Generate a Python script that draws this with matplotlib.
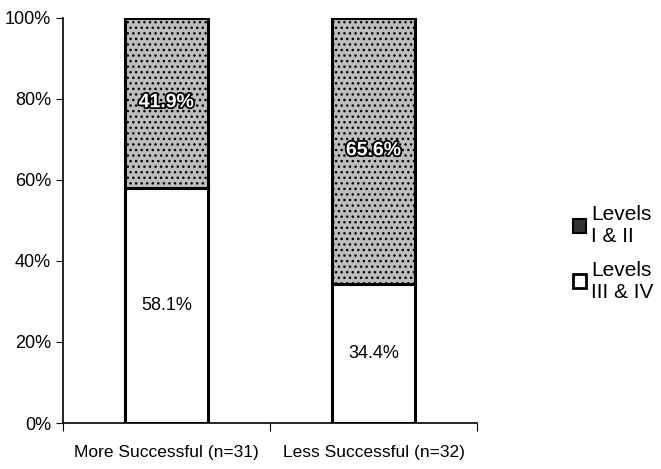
import matplotlib
matplotlib.use("Agg")
import matplotlib.pyplot as plt
import matplotlib.patheffects as pe
from matplotlib.patches import Patch
import numpy as np

plt.rcParams["font.family"] = ["Liberation Sans", "DejaVu Sans"]
plt.rcParams["hatch.color"] = "#555555"

groups = ["More Successful (n=31)", "Less Successful (n=32)"]
levels_3_4 = [58.1, 34.4]
levels_1_2 = [41.9, 65.6]
y_ticks = [0, 20, 40, 60, 80, 100]

fig = plt.figure(figsize=(6.61, 4.69), dpi=100)
ax = fig.add_axes([0.095, 0.098, 0.627, 0.864])

x = np.arange(len(groups)) + 0.5
width = 0.4
gray = "#bdbdbd"

ax.bar(x, levels_3_4, width, color="white", edgecolor="black", linewidth=2.2)
ax.bar(x, levels_1_2, width, bottom=levels_3_4, color=gray, edgecolor="black",
       linewidth=2.2, hatch="...")

for xi, low, high in zip(x, levels_3_4, levels_1_2):
    ax.text(xi, low / 2, f"{low:.1f}%", ha="center", va="center", fontsize=13)
    ax.text(xi, low + high / 2, f"{high:.1f}%", ha="center", va="center",
            fontsize=14, fontweight="bold", color="white",
            path_effects=[pe.withStroke(linewidth=2.5, foreground="black")])

ax.set_xlim(0, 2)
ax.set_ylim(0, 100)
ax.set_yticks(y_ticks)
ax.set_yticklabels([f"{t}%" for t in y_ticks])
ax.set_xticks([0, 1, 2])
ax.set_xticklabels([])
ax.set_xticks(x, minor=True)
ax.set_xticklabels(groups, minor=True)
ax.tick_params(axis="x", which="minor", length=0, pad=16, labelsize=12.5)
ax.tick_params(axis="x", which="major", length=6, direction="out")
ax.tick_params(axis="y", length=5, labelsize=13)
ax.spines["top"].set_visible(False)
ax.spines["right"].set_visible(False)
ax.spines["left"].set_linewidth(1.2)
ax.spines["bottom"].set_linewidth(1.2)

handles = [Patch(facecolor="#333333", edgecolor="black", linewidth=1.5),
           Patch(facecolor="white", edgecolor="black", linewidth=2)]
fig.legend(handles, ["Levels\nI & II", "Levels\nIII & IV"], loc="center left",
           bbox_to_anchor=(0.838, 0.46), frameon=False, fontsize=15,
           handlelength=0.65, handleheight=0.65, handletextpad=0.25,
           labelspacing=0.7)

fig.savefig("out.png", dpi=100)
